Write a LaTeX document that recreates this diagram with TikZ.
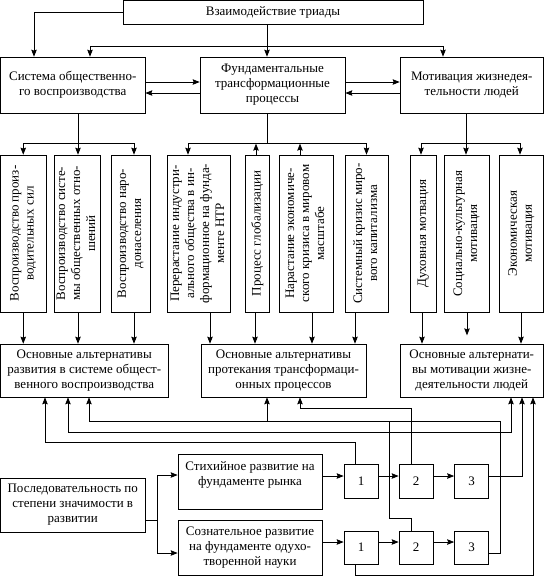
\documentclass[tikz,border=0pt]{standalone}
\usepackage{fontspec}
\setmainfont{Liberation Serif}
\usepackage{graphicx}
\usetikzlibrary{arrows.meta}

\newcommand{\vtext}[1]{\rotatebox{90}{\begin{tabular}{@{}c@{}}#1\end{tabular}}}

\begin{document}
\begin{tikzpicture}[x=1pt, y=-1pt, >={Stealth[length=7pt,width=5.5pt,inset=1pt]},
  line width=0.7pt, font=\fontsize{13}{15}\selectfont,
  box/.style={draw, inner sep=1pt, align=center},
  vbox/.style={draw, inner sep=0pt, minimum height=157},
  numbox/.style={draw, minimum width=34, minimum height=34, inner sep=0pt}]
  \useasboundingbox (0,0) rectangle (544,576);
%   \draw[step=20, color=black!10, very thin] (0,0) grid (544,576);
  % upper level
  \node[box, minimum width=300, minimum height=24] (triad) at (273,12.5) {Взаимодействие триады};
  \node[box, minimum width=144.5, minimum height=56] (sys) at (72.75,85) {Система общественно-\\го воспроизводства};
  \node[box, minimum width=145, minimum height=56] (fund) at (272.5,85) {Фундаментальные\\трансформационные\\процессы};
  \node[box, minimum width=143.5, minimum height=56] (mot) at (471.75,85) {Мотивация жизнедея-\\тельности людей};
  \draw[->] (triad.west) -| (sys.north -| 34,0);
  \draw[->] (triad.south -| 267,0) -- (fund.north -| 267,0);
  \draw[<->] (sys.north -| 90,0) -- ++(0,-10) -| (mot.north -| 443,0);
  \draw[->] (sys.east |- 0,82) -- (fund.west |- 0,82);
  \draw[<-] (sys.east |- 0,93) -- (fund.west |- 0,93);
  \draw[->] (fund.east |- 0,82) -- (mot.west |- 0,82);
  \draw[<-] (fund.east |- 0,93) -- (mot.west |- 0,93);
  % vertical boxes
  \node[vbox, minimum width=45.5] (v1) at (23.25,233.5) {\vtext{Воспроизводство произ-\\водительных сил}};
  \node[vbox, minimum width=46] (v2) at (77,233.5) {\vtext{Воспроизводство систе-\\мы общественных отно-\\шений}};
  \node[vbox, minimum width=39] (v3) at (130.5,233.5) {\vtext{Воспроизводство наро-\\донаселения}};
  \node[vbox, minimum width=63] (v4) at (198.5,233.5) {\vtext{Перерастание индустри-\\ального общества в ин-\\формационное на фунда-\\менте НТР}};
  \node[vbox, minimum width=24] (v5) at (257.5,233.5) {\vtext{Процесс глобализации}};
  \node[vbox, minimum width=54] (v6) at (306,233.5) {\vtext{Нарастание экономиче-\\ского кризиса в мировом\\масштабе}};
  \node[vbox, minimum width=43] (v7) at (366.5,233.5) {\vtext{Системный кризис миро-\\вого капитализма}};
  \node[vbox, minimum width=26] (v8) at (423,233.5) {\vtext{Духовная мотвация}};
  \node[vbox, minimum width=45] (v9) at (466.5,233.5) {\vtext{Социально-культурная\\мотивация}};
  \node[vbox, minimum width=44.5] (v10) at (521.25,233.5) {\vtext{Экономическая\\мотивация}};
  \draw[->] (sys.south -| 78,0) -- (v2.north -| 78,0);
  \draw[<->] (v1.north) -- ++(0,-11) -| (v3.north -| 134,0);
  \draw (fund.south -| 267,0) -- ++(0,31);
  \draw[<->] (v4.north -| 188,0) -- ++(0,-11) -| (v7.north);
  \draw[->] (v5.north -| 256,0) -- ++(0,-11);
  \draw[->] (v6.north -| 300,0) -- ++(0,-11);
  \draw[->] (mot.south -| 466,0) -- (v9.north -| 466,0);
  \draw[<->] (v8.north -| 421,0) -- ++(0,-11) -| (v10.north -| 520,0);
  % alternatives
  \node[box, minimum width=167.5, minimum height=53] (alt1) at (84.25,370.5) {Основные альтернативы\\развития в системе общест-\\венного воспроизводства};
  \node[box, minimum width=165, minimum height=53] (alt2) at (283.5,370.5) {Основные альтернативы\\протекания трансформаци-\\онных процессов};
  \node[box, minimum width=143.5, minimum height=53] (alt3) at (471.75,370.5) {Основные альтернати-\\вы мотивации жизне-\\деятельности людей};
  \draw[->] (v1.south) -- (alt1.north -| v1.south);
  \draw[->] (v2.south -| 78,0) -- (alt1.north -| 78,0);
  \draw[->] (v3.south -| 134,0) -- (alt1.north -| 134,0);
  \draw[->] (v4.south -| 210,0) -- (alt2.north -| 210,0);
  \draw[->] (v5.south -| 255,0) -- (alt2.north -| 255,0);
  \draw[->] (v6.south -| 312,0) -- (alt2.north -| 312,0);
  \draw[->] (v7.south -| 355,0) -- (alt2.north -| 355,0);
  \draw[->] (v8.south -| 422,0) -- (alt3.north -| 422,0);
  \draw[->] (v9.south -| 467,0) -- ++(0,23) coordinate (v9end);
  \draw[->] (v10.south -| 521,0) -- (alt3.north -| 521,0);
  % sequence
  \node[box, minimum width=144.5, minimum height=54] (seq) at (72.75,505) {Последовательность по\\степени значимости в\\развитии};
  \node[box, minimum width=144, minimum height=55] (spont) at (250,481.5) {Стихийное развитие на\\фундаменте рынка\\\mbox{}};
  \node[box, minimum width=144, minimum height=55] (consc) at (250,547.5) {Сознательное развитие\\на фундаменте одухо-\\творенной науки};
  \node[numbox] (u1) at (361,481) {1};
  \node[numbox] (u2) at (416,481) {2};
  \node[numbox] (u3) at (471.5,481) {3};
  \node[numbox, minimum height=33] (l1) at (361,547.5) {1};
  \node[numbox, minimum height=33] (l2) at (416,547.5) {2};
  \node[numbox, minimum height=33] (l3) at (471.5,547.5) {3};
  \draw[->] (seq.east |- 0,520) -- ++(12,0) |- (spont.west |- 0,475);
  \draw[->] (seq.east |- 0,520) -- ++(12,0) |- (consc.west |- 0,553);
  \draw[->] (spont.east |- 0,476) -- (u1.west |- 0,476);
  \draw[->] (u1.east |- 0,476) -- (u2.west |- 0,476);
  \draw[->] (u2.east |- 0,476) -- (u3.west |- 0,476);
  \draw[->] (consc.east |- 0,542) -- (l1.west |- 0,542);
  \draw[->] (l1.east |- 0,542) -- (l2.west |- 0,542);
  \draw[->] (l2.east |- 0,542) -- (l3.west |- 0,542);
  % feedback to the alternatives
  \draw[->] (u1.north -| 355,0) -- ++(0,-21) -| (alt1.south -| 45,0);
  \draw[<->] (alt1.south -| 68,0) -- ++(0,35) -| (alt3.south -| 511,0);
  \draw[->] (l3.east |- 0,553) -| (500,421) -| (alt1.south -| 89,0);
  \draw[->] (267,421) -- (alt2.south -| 267,0);
  \draw (l2.north -| 411,0) -- ++(0,-12) -| (389,421);
  \draw[->] (u2.north -| 411,0) -- ++(0,-55) -| (alt2.south -| 300,0);
  \draw[->] (u3.east |- 0,476) -| (alt3.south -| 522,0);
  \draw[->] (l1.south -| 355,0) -- ++(0,11) -| (alt3.south -| 533,0);
\end{tikzpicture}
\end{document}
